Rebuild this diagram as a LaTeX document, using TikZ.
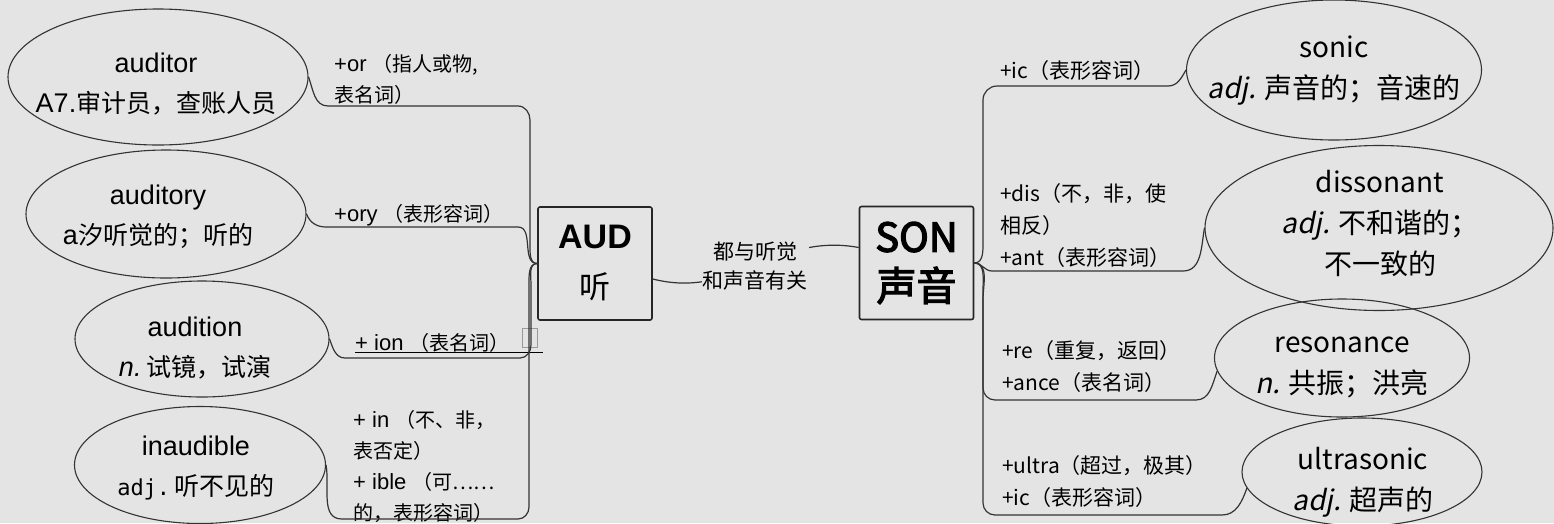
\documentclass[tikz,border=0pt]{standalone}
\usepackage{fontspec}
\setmainfont{Liberation Sans}
\newfontfamily\zhfont{Noto Sans CJK SC}
\newfontfamily\zhbold{Noto Sans CJK SC}[FakeBold=3]
\newfontfamily\zhslant{Noto Sans CJK SC}[FakeSlant=0.2]
\newfontfamily\adjtt{DejaVu Sans Mono}
\usetikzlibrary{shapes.geometric}
\definecolor{bgc}{RGB}{228,228,228}
\newcommand{\zh}[2][25]{{\zhfont\fontsize{#1}{40}\selectfont #2}}
\tikzset{
  word/.style={draw=black!80,line width=1.1pt,ellipse,inner sep=0pt},
  wordtxt/.style={align=center,inner sep=0pt,font=\fontsize{27}{40}\selectfont},
  rword/.style={word},
  rwordtxt/.style={align=center,inner sep=0pt,font=\zhfont\fontsize{28}{41}\selectfont},
  root/.style={draw=black!85,line width=1.6pt,rounded corners=2pt,minimum width=114pt,minimum height=113pt,align=center,inner sep=0pt},
  lab/.style={anchor=west,align=left,inner sep=0pt,font=\fontsize{22}{31}\selectfont},
  rlab/.style={lab,font=\zhfont\fontsize{21}{32}\selectfont},
  link/.style={draw=black!80,line width=1.2pt},
  midlab/.style={fill=bgc,align=center,inner sep=1pt,font=\zhfont\fontsize{21}{29}\selectfont},
  uline/.style={draw=black,line width=1pt},
  sq/.style={draw=black!40,line width=0.8pt,minimum width=15pt,minimum height=19pt,inner sep=0pt}
}
\begin{document}
\begin{tikzpicture}[x=1pt,y=-1pt]
\fill[bgc] (0,0) rectangle (1554,523);
\useasboundingbox (0,0) rectangle (1554,523);
\newcommand{\wordnode}[7]{\node[#1,minimum width=#4pt,minimum height=#5pt] (#2) at (#3) {};
  \node[#1txt] (#2-t) at (#6) {#7};}
\wordnode{word}{auditor}{158,77}{300}{136}{156,84}{auditor\\A7.\zh{审计员，查账人员}}
\wordnode{word}{auditory}{166,214}{280}{128}{158,217}{auditory\\a\zh{汐听觉的；听的}}
\wordnode{word}{audition}{202,339}{254}{116}{195,348}{audition\\\textit{n.}\,\zh{试镜，试演}}
\wordnode{word}{inaudible}{200,465}{251}{117}{196,468}{inaudible\\{\adjtt\fontsize{22}{40}\selectfont adj.}\,\zh{听不见的}}
\wordnode{rword}{sonic}{1334,70}{295}{140}{1334,71}{sonic\\{\zhslant adj.} 声音的；音速的}
\wordnode{rword}{dissonant}{1379,228}{348}{165}{1380,223}{dissonant\\{\zhslant adj.} 不和谐的；\\不一致的}
\wordnode{rword}{resonance}{1342,358}{255}{118}{1342,367}{resonance\\{\zhslant n.} 共振；洪亮}
\wordnode{rword}{ultrasonic}{1362,472}{240}{108}{1363,482}{ultrasonic\\{\zhslant adj.} 超声的}
\node[root,font=\fontsize{32}{50}\selectfont] (aud) at (595,263.5) {{\bfseries\fontsize{34}{50}\selectfont AUD}\\{\zhfont\fontsize{31}{50}\selectfont 听}};
\node[root,font=\zhbold\fontsize{40}{49}\selectfont] (son) at (916.5,263) {SON\\声音};
\node[lab] (orlab) at (334,79.5) {+or \zh[20]{（指人或物,}\\\zh[20]{表名词）}};
\node[lab] (orylab) at (334,215) {+ory \zh[20]{（表形容词）}};
\node[lab] (ionlab) at (355,343) {+ ion \zh[20]{（表名词）}};
\node[sq] (ionbox) at (530,337.5) {};
\node[lab] (inlab) at (353,466) {+ in \zh[20]{（不、非，}\\\zh[20]{表否定）}\\+ ible \zh[20]{（可……}\\\zh[20]{的，表形容词）}};
\node[rlab] (iclab) at (1000,71) {+ic（表形容词）};
\node[rlab] (dislab) at (1000,225.5) {+dis（不，非，使\\相反）\\+ant（表形容词）};
\node[rlab] (relab) at (1002,367) {+re（重复，返回）\\+ance（表名词）};
\node[rlab] (ultralab) at (1002,482) {+ultra（超过，极其）\\+ic（表形容词）};
\draw[uline] (ionlab.south west) -- ++(188,0);
\draw[link] (auditor.east) to[out=-70,in=180] (328,106) -- (518,106) to[out=0,in=90] (530,120) -- (530,245) to[out=-90,in=180] (aud.west);
\draw[link] (auditory.east) to[out=-70,in=180] (326,227) -- (518,227) to[out=0,in=180] (aud.west);
\draw[link] (audition.east) to[out=-70,in=180] (345,358) -- (520,358) to[out=0,in=-90] (531,345) -- (531,285) to[out=90,in=180] (aud.west);
\draw[link] (inaudible.east) to[out=-80,in=180] (342,519) -- (518,519) to[out=0,in=-90] (529,507) -- (529,285) to[out=90,in=180] (aud.west);
\draw[link] (son.east) to[out=0,in=-90] (983,240) -- (983,100) to[out=90,in=180] (997,86) -- (1168,86) to[out=0,in=-120] (sonic.west);
\draw[link] (son.east) to[out=0,in=180] (992,271) -- (1183,271) to[out=0,in=-100] (dissonant.west);
\draw[link] (son.east) to[out=0,in=90] (983,290) -- (983,388) to[out=-90,in=180] (995,400) -- (1196,400) to[out=0,in=-110] (resonance.186);
\draw[link] (son.east) to[out=0,in=90] (983,300) -- (983,503) to[out=-90,in=180] (995,515) -- (1222,515) to[out=0,in=-110] (ultrasonic.188);
\draw[link] (aud.-15) .. controls (735,300) and (775,232) .. (son.165);
\node[midlab] (rel) at (755,266) {都与听觉\\和声音有关};
\end{tikzpicture}
\end{document}
